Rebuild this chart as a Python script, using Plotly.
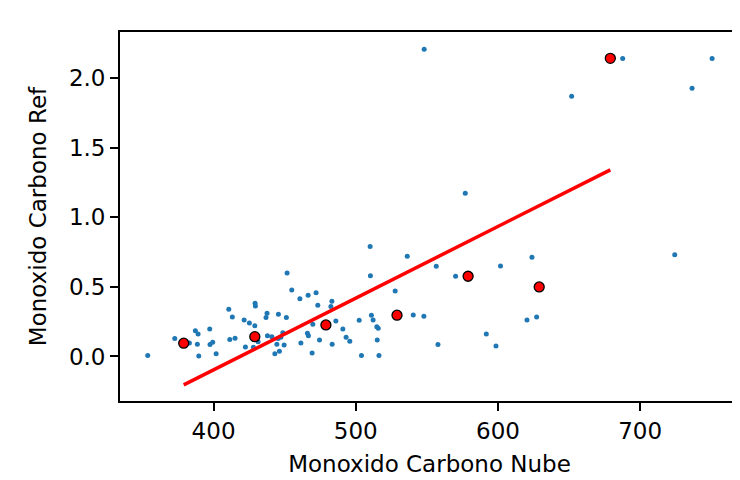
import plotly.graph_objects as go

# Blue scatter points (Monoxido Carbono Nube, Monoxido Carbono Ref)
nube = [353.7, 372.7, 383.0, 387.2, 389.1, 388.6, 389.6, 397.3, 397.5, 399.4,
        401.8, 410.7, 413.2, 411.4, 415.1, 421.5, 425.2, 429.2, 429.4, 429.0,
        422.4, 428.0, 431.3, 437.6, 436.9, 445.6, 451.2, 451.7, 455.0, 460.7,
        466.5, 472.1, 473.3, 437.9, 441.0, 444.5, 446.3, 443.1, 448.7, 449.6,
        445.4, 447.3, 461.4, 466.0, 466.7, 469.3, 474.5, 469.8,
        510.1, 510.3, 536.2, 556.6, 570.2, 601.8, 623.9, 527.7, 540.4, 547.9,
        483.2, 482.5, 486.0, 490.9, 493.2, 495.8, 483.4, 502.4, 504.0, 511.0,
        512.2, 514.8, 515.8, 515.1, 516.3, 557.8, 591.8, 598.6, 620.4, 627.2,
        548.1, 577.0, 687.7, 750.6, 736.5, 651.8, 724.3]
ref = [0.006, 0.128, 0.097, 0.185, 0.162, 0.087, 0.004, 0.197, 0.085, 0.102,
       0.020, 0.339, 0.284, 0.121, 0.131, 0.262, 0.240, 0.382, 0.363, 0.221,
       0.068, 0.066, 0.106, 0.310, 0.279, 0.303, 0.279, 0.600, 0.478, 0.415,
       0.439, 0.458, 0.368, 0.149, 0.142, 0.087, 0.037, 0.020, 0.171, 0.083,
       0.128, 0.138, 0.097, 0.166, 0.149, 0.025, 0.118, 0.231,
       0.789, 0.580, 0.719, 0.648, 0.576, 0.650, 0.712, 0.470, 0.298, 0.289,
       0.396, 0.358, 0.255, 0.197, 0.138, 0.109, 0.087, 0.260, 0.006, 0.296,
       0.262, 0.214, 0.202, 0.118, 0.006, 0.085, 0.162, 0.075, 0.262, 0.284,
       2.206, 1.172, 2.139, 2.139, 1.926, 1.868, 0.731]

# Red binned points
bin_x = [379, 429, 479, 529, 579, 629, 679]
bin_y = [0.095, 0.142, 0.226, 0.296, 0.576, 0.499, 2.141]

# Red fit line endpoints
fit_x = [379, 679]
fit_y = [-0.204, 1.340]

x_ticks = [400, 500, 600, 700]
y_ticks = [0.0, 0.5, 1.0, 1.5, 2.0]

font = dict(family="DejaVu Sans", size=23, color="black")

fig = go.Figure()
fig.add_trace(go.Scatter(x=nube, y=ref, mode="markers",
                         marker=dict(color="#1f77b4", size=5, line=dict(width=0)),
                         showlegend=False, hoverinfo="skip"))
fig.add_trace(go.Scatter(x=fit_x, y=fit_y, mode="lines",
                         line=dict(color="#ff0000", width=3.5),
                         showlegend=False, hoverinfo="skip"))
fig.add_trace(go.Scatter(x=bin_x, y=bin_y, mode="markers",
                         marker=dict(color="#ff0000", size=10,
                                     line=dict(color="black", width=1.3)),
                         showlegend=False, hoverinfo="skip"))

axis_common = dict(showline=True, mirror=True, linecolor="black", linewidth=1.8,
                   ticks="outside", ticklen=8, tickwidth=1.8, tickcolor="black",
                   showgrid=False, zeroline=False, tickfont=font)

# The page body adds an 8px offset; margins compensate for it.
fig.update_layout(
    width=740, height=480,
    margin=dict(l=112, r=7, t=24, b=87),
    paper_bgcolor="white", plot_bgcolor="white",
    font=font,
    xaxis=dict(range=[334.2, 769.5], tickvals=x_ticks,
               ticktext=[str(v) for v in x_ticks],
               title=dict(text="Monoxido Carbono Nube", font=font, standoff=13),
               **axis_common),
    yaxis=dict(range=[-0.320, 2.330], tickvals=y_ticks,
               ticktext=[f"{v:.1f}" for v in y_ticks],
               title=dict(text="Monoxido Carbono Ref", font=font, standoff=16),
               **axis_common),
)

fig.write_html("out.html")
